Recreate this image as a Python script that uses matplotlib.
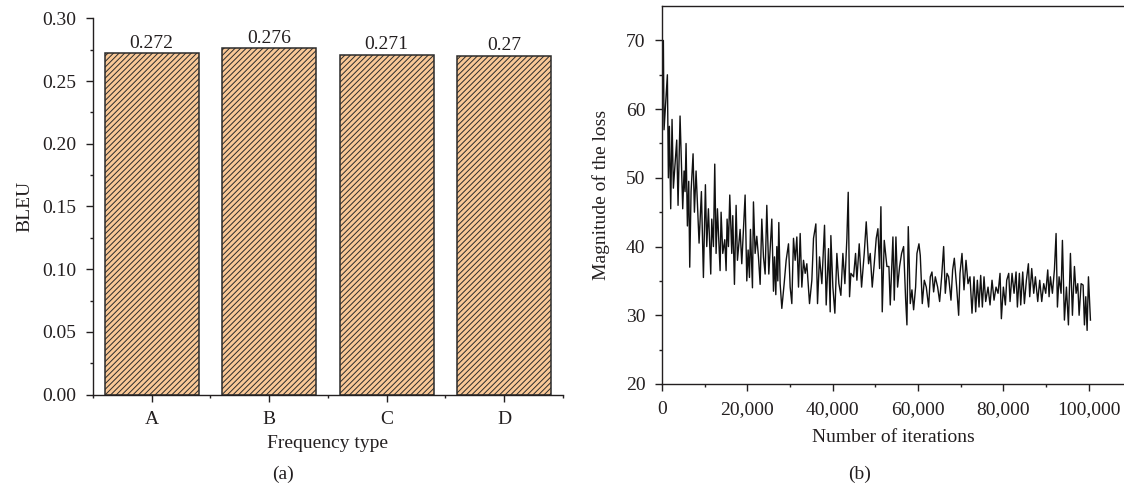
import numpy as np
import matplotlib
matplotlib.use("Agg")
from matplotlib import pyplot as plt
from matplotlib.ticker import MultipleLocator, FixedLocator, FuncFormatter

plt.rcParams['font.family'] = ['Liberation Serif', 'DejaVu Serif']
plt.rcParams['font.size'] = 14
plt.rcParams['hatch.linewidth'] = 0.7
plt.rcParams['text.color'] = '#231f20'
plt.rcParams['axes.labelcolor'] = '#231f20'
plt.rcParams['xtick.color'] = '#231f20'
plt.rcParams['ytick.color'] = '#231f20'

# (a) BLEU per frequency type
types = ["A", "B", "C", "D"]
bleu = [0.272, 0.276, 0.271, 0.27]
bleu_labels = ["0.272", "0.276", "0.271", "0.27"]

# (b) training loss
iters = [0, 313, 469, 1252, 1486, 1721, 2034, 2347, 2660, 3442, 3755, 4225, 4850,
         5163, 5398, 5633, 5946, 6259, 6494, 6806, 7276, 7589, 7980, 8684, 9231,
         9701, 10170, 10483, 10874, 11422, 11657, 12048, 12361, 12674, 12987, 13613,
         13847, 14238, 14708, 15021, 15256, 15569, 15882, 16351, 16586, 16977, 17368,
         17681, 18307, 18698, 19480, 19871, 20184, 20497, 20732, 21201, 21436, 21827,
         22218, 22609, 23001, 23392, 23783, 24174, 24565, 25034, 25738, 26130, 26364,
         26677, 26912, 27147, 27382,
         27695, 28086, 28634, 29103, 29651, 30042, 30433, 30824, 31215, 31606, 31997,
         32389, 32780, 33171, 33562, 33953, 34580, 35127, 35518, 36065, 36457, 36926,
         37474, 38100, 38490, 39038, 39429, 39586, 40055, 40524, 40994, 41463, 41933,
         42402, 42871, 43341, 43654, 43967, 44280, 44905, 45375, 45688, 46235, 46783,
         47409, 47878, 48426, 48817, 49286, 49756, 50225, 50616, 51007, 51320, 51633,
         52103, 52727, 53197, 53511, 54137, 54449, 54841, 55232, 55701, 56171, 56640,
         57109, 57422, 57735, 58205, 58596, 58987, 59456, 59770, 60239, 60551, 61021,
         61490, 61960, 62507, 62898,
         63291, 63682, 64073, 64621, 65090, 65560, 66029, 66420, 66812, 67203, 67750,
         68141, 68533, 69080, 69549, 69862, 70332, 70803, 71272, 71742, 72211, 72680,
         73150, 73541, 73932, 74323, 74715, 75106, 75497, 75888, 76436, 76905, 77374,
         77844, 78313, 78782, 79252, 79565, 80034, 80504, 80816, 81286, 81599, 82068,
         82538, 83007, 83320, 83789, 84102, 84571, 84961, 85430, 85900, 86213, 86682,
         87151, 87542, 88090, 88559, 89029, 89498, 89968, 90437, 90750, 91063, 91532,
         92002, 92393, 92706, 93097, 93566, 93879, 94348, 94818, 95287, 95757, 96226,
         96695, 97087, 97478, 97791, 98260, 98729, 99042, 99355, 99668, 99981, 100450]
loss = [60, 70, 57, 65, 50, 57.5, 45.5, 58.5, 48.5, 55.5, 46, 59, 45.5,
        51, 48, 55, 43, 49.5, 37, 48, 53.5, 45, 51, 40.5, 48,
        35.5, 49, 40, 45.5, 36, 44, 40, 52, 39, 45.5, 36.5,
        45, 39, 41, 36.5, 44, 40, 47.5, 39, 44.5, 34.5, 46,
        38, 42.5, 37.5, 47.5, 35, 39.5, 35.5, 42.5, 34, 46.5, 39,
        41.5, 38.5, 34.5, 44, 38.5, 36, 46, 36, 44, 33.5, 38.5,
        33, 40, 35, 43.5,
        34.6, 31.0, 34.6, 38.0, 40.4, 34.1, 31.7, 41.2, 38.0, 41.4, 34.1,
        41.9, 34.1, 38.0, 36.1, 37.5, 31.7, 35.1, 41.2, 43.3, 31.7, 38.5,
        34.6, 43.1, 31.5, 39.7, 30.5, 41.6, 34.1, 30.3, 39.0, 34.6, 32.9,
        39.0, 34.6, 41.2, 47.9, 32.7, 36.1, 35.6, 39.0, 35.1, 40.4, 34.1,
        39.0, 43.6, 37.5, 39.0, 34.1, 37.5, 41.2, 42.6, 36.8, 45.8, 30.5,
        40.9, 37.1, 37.1, 31.5, 41.4, 32.2, 41.4, 34.1, 37.1, 39.0, 40.0,
        32.4, 28.6, 42.9, 31.7, 33.7, 30.8, 34.1, 39.0, 40.4, 38.7, 31.7,
        35.1, 34.1, 31.2, 35.6,
        36.3, 33.4, 35.6, 34.1, 32.0, 35.6, 40.0, 33.2, 36.1, 35.6, 32.2,
        36.6, 38.3, 34.1, 30.0, 36.1, 39.0, 33.7, 38.0, 34.6, 35.6, 30.3,
        35.6, 30.5, 35.1, 31.2, 35.8, 31.2, 35.6, 32.0, 34.1, 31.5, 35.1,
        32.2, 34.1, 33.2, 36.1, 29.5, 34.1, 31.5, 35.1, 36.1, 32.0, 36.1,
        33.2, 36.3, 31.2, 36.1, 31.5, 36.3, 31.7, 35.1, 37.5, 32.7, 36.8,
        33.2, 35.6, 32.0, 35.1, 32.0, 34.6, 33.2, 36.6, 32.7, 35.6, 33.2,
        36.6, 41.9, 31.2, 35.6, 33.2, 40.9, 29.3, 34.1, 28.6, 39.0, 30.0,
        37.1, 33.2, 34.6, 30.0, 34.6, 34.4, 28.6, 32.7, 27.8, 35.6, 29.3]

fig = plt.figure(figsize=(11.24, 4.94), dpi=100)

# ---- left panel
ax1 = fig.add_axes([0.0827, 0.201, 0.418, 0.762])
pos = np.arange(len(types))
bars = ax1.bar(pos, bleu, width=0.8, color='#f9c897', edgecolor='#2b2b2b',
               linewidth=1.1, hatch='//////')
for p, v, lab in zip(pos, bleu, bleu_labels):
    ax1.annotate(lab, (p, v), xytext=(0, 4), textcoords='offset points',
                 ha='center', va='baseline')
ax1.set_xlim(-0.5, 3.5)
ax1.set_ylim(0, 0.30)
ax1.set_xticks(pos)
ax1.set_xticklabels(types)
ax1.xaxis.set_minor_locator(FixedLocator([-0.5, 0.5, 1.5, 2.5, 3.5]))
ax1.yaxis.set_major_locator(MultipleLocator(0.05))
ax1.yaxis.set_minor_locator(MultipleLocator(0.025))
ax1.yaxis.set_major_formatter(FuncFormatter(lambda v, p: "%.2f" % v))
ax1.tick_params(axis='x', which='major', pad=7)
ax1.tick_params(axis='y', which='major', pad=7)
ax1.set_ylabel("BLEU", labelpad=6)
ax1.set_xlabel("Frequency type", labelpad=5)
for s in ['top', 'right']:
    ax1.spines[s].set_visible(False)

# ---- right panel
ax2 = fig.add_axes([0.589, 0.2227, 0.4115, 0.765])
ax2.plot(iters, loss, color='#111111', linewidth=1.0)
ax2.set_xlim(0, 108450)
ax2.set_ylim(20, 75)
ax2.xaxis.set_major_locator(MultipleLocator(20000))
ax2.xaxis.set_minor_locator(MultipleLocator(10000))
ax2.yaxis.set_major_locator(FixedLocator([20, 30, 40, 50, 60, 70]))
ax2.yaxis.set_minor_locator(FixedLocator([25, 35, 45, 55, 65]))
ax2.xaxis.set_major_formatter(FuncFormatter(lambda v, p: "{:,.0f}".format(v)))
ax2.tick_params(axis='x', which='major', pad=7)
ax2.tick_params(axis='y', which='major', pad=7)
ax2.set_ylabel("Magnitude of the loss", labelpad=11)
ax2.set_xlabel("Number of iterations", labelpad=8)
ax2.spines['right'].set_visible(False)

for ax in (ax1, ax2):
    for s in ax.spines.values():
        s.set_color('#231f20')
        s.set_linewidth(1.0)
    ax.tick_params(which='major', direction='out', length=5, width=1.0)
    ax.tick_params(which='minor', direction='out', length=2.3, width=1.0)

fig.text(283 / 1124, 20 / 494, "(a)", ha='center', va='center')
fig.text(860 / 1124, 20 / 494, "(b)", ha='center', va='center')

plt.savefig("out.png", dpi=100)
plt.close()
